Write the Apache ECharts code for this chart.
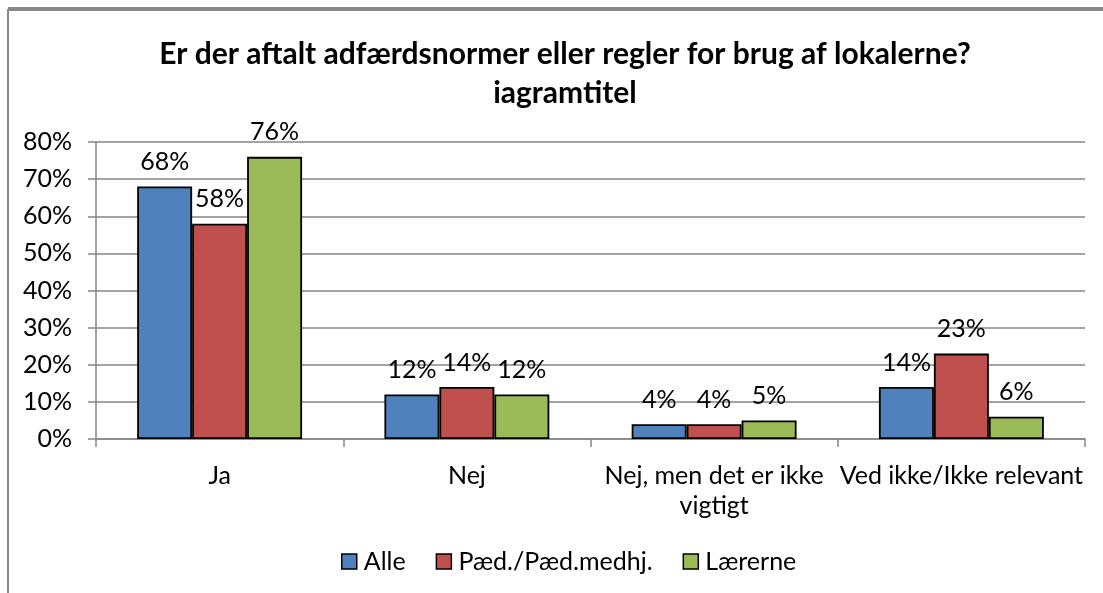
<!DOCTYPE html>
<html>
<head>
<meta charset="utf-8">
<script src="https://cdn.jsdelivr.net/npm/echarts@6/dist/echarts.min.js"></script>
<style>
	html, body { margin: 0; padding: 0; background: #fff; }
	#chart { width: 1103px; height: 593px; }
</style>
</head>
<body>
<div id="chart"></div>
<script>
	// Chart data
	var categories = ['Ja', 'Nej', 'Nej, men det er ikke\nvigtigt', 'Ved ikke/Ikke relevant'];
	var seriesNames = ['Alle', 'Pæd./Pæd.medhj.', 'Lærerne'];
	var alle = [68, 12, 4, 14];
	var paed = [58, 14, 4, 23];
	var laererne = [76, 12, 5, 6];
	var colors = ['#4F81BD', '#C0504D', '#9BBB59'];

	var fontFamily = 'Lato, "Noto Sans", sans-serif';
	var gridColor = '#868686';

	function barSeries( name, data, color ) {
		return {
			name: name,
			type: 'bar',
			data: data,
			barGap: '0%',
			barCategoryGap: '33.3%',
			itemStyle: { color: color, borderColor: '#000', borderWidth: 1.8 },
			label: {
				show: true,
				position: 'top',
				distance: 12,
				color: '#000',
				fontFamily: fontFamily,
				fontSize: 25,
				formatter: '{c}%'
			}
		};
	}

	var chart = echarts.init( document.getElementById( 'chart' ), null, { renderer: 'canvas' } );
	chart.setOption( {
		animation: false,
		backgroundColor: '#fff',
		textStyle: { fontFamily: fontFamily },
		title: {
			text: 'Er der aftalt adfærdsnormer eller regler for brug af lokalerne?\niagramtitel',
			left: 560,
			textAlign: 'center',
			top: 30,
			textStyle: {
				fontFamily: fontFamily,
				fontWeight: 'bold',
				fontSize: 30,
				lineHeight: 39,
				color: '#000'
			}
		},
		legend: {
			data: seriesNames,
			bottom: 14,
			left: 336,
			itemWidth: 15,
			itemHeight: 15,
			itemGap: 30,
			icon: 'rect',
			textStyle: { fontFamily: fontFamily, fontSize: 25, color: '#000', padding: [0, 0, 0, 2] },
			itemStyle: { borderColor: '#000', borderWidth: 1.5 }
		},
		grid: { left: 96, right: 18, top: 142, bottom: 154, containLabel: false },
		xAxis: {
			type: 'category',
			data: categories,
			axisLine: { lineStyle: { color: gridColor, width: 1.5 } },
			axisTick: { show: true, length: 8, lineStyle: { color: gridColor, width: 1.5 } },
			axisLabel: {
				color: '#000',
				fontFamily: fontFamily,
				fontSize: 25,
				lineHeight: 30,
				margin: 22,
				interval: 0
			}
		},
		yAxis: {
			type: 'value',
			min: 0,
			max: 80,
			interval: 10,
			axisLine: { show: true, lineStyle: { color: gridColor, width: 1.5 } },
			axisTick: { show: true, length: 8, lineStyle: { color: gridColor, width: 1.5 } },
			splitLine: { lineStyle: { color: gridColor, width: 1.5 } },
			axisLabel: {
				color: '#000',
				fontFamily: fontFamily,
				fontSize: 25,
				margin: 24,
				formatter: '{value}%'
			}
		},
		graphic: [
			{ type: 'line', shape: { x1: 8, y1: 9, x2: 1103, y2: 9 }, style: { stroke: '#888', lineWidth: 4 } },
			{ type: 'line', shape: { x1: 8, y1: 9, x2: 8, y2: 593 }, style: { stroke: '#888', lineWidth: 2 } }
		],
		series: [
			barSeries( seriesNames[0], alle, colors[0] ),
			barSeries( seriesNames[1], paed, colors[1] ),
			barSeries( seriesNames[2], laererne, colors[2] )
		]
	} );
</script>
</body>
</html>
